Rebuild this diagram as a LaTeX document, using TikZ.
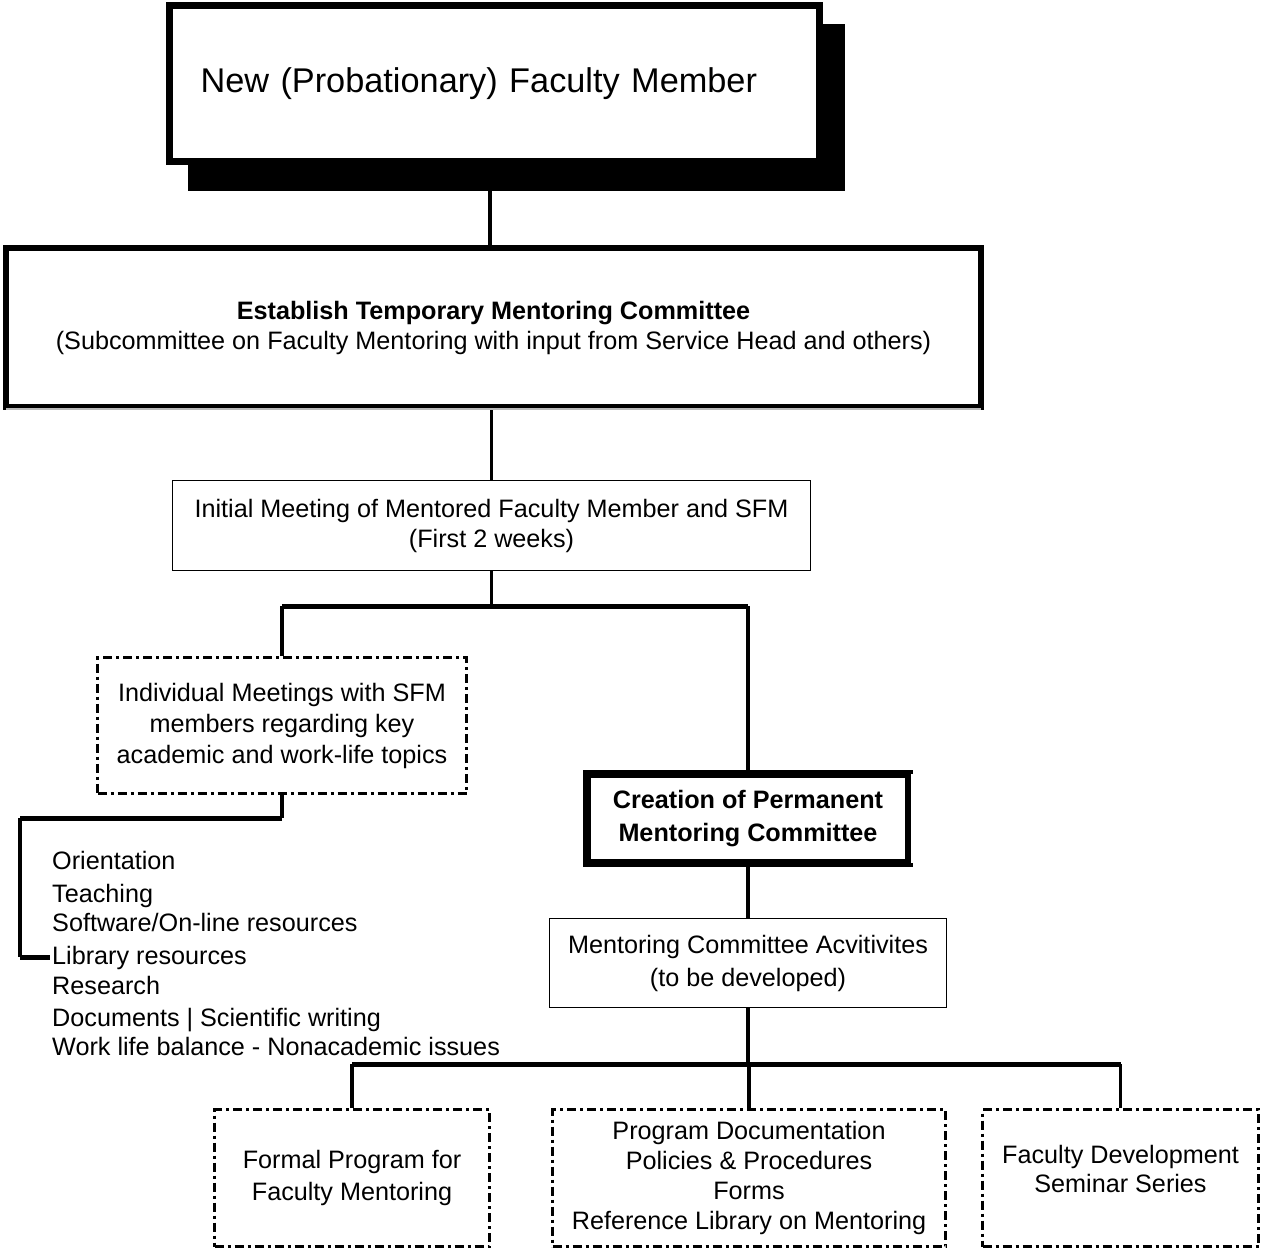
\documentclass[tikz,border=0pt]{standalone}
\usepackage{fontspec}
\setmainfont{Liberation Sans}
\begin{document}
\begin{tikzpicture}[x=1pt,y=-1pt,
  vconn/.style={line width=3.5pt},
  hconn/.style={line width=5pt, line cap=square},
  thinbox/.style={draw, fill=white, line width=1.5pt, inner sep=0pt, align=center},
  dashbox/.style={draw, fill=white, line width=3pt, dash pattern=on 9pt off 4pt on 3pt off 4pt, inner sep=0pt, align=center},
  fs/.style={font=\fontsize{25.2}{#1}\selectfont},
  item/.style={anchor=base west, inner sep=0pt, font=\fontsize{25.2}{30}\selectfont}
]
\useasboundingbox (0,0) rectangle (1263,1253);
% top box with shadow
\fill (188,24) rectangle (845,191);
\node[draw, fill=white, line width=7pt, text width=587pt, inner xsep=31.5pt, inner ysep=0pt,
      minimum height=156pt, align=left, font=\fontsize{34.3}{40}\selectfont]
      (top) at (494,83.5) {New (Probationary) Faculty Member};
% establish box
\node[draw, fill=white, line width=6pt, minimum width=975pt, minimum height=159pt, inner sep=0pt,
      align=center, fs=30] (est) at (493.5,327.5)
      {\textbf{Establish Temporary Mentoring Committee}\\(Subcommittee on Faculty Mentoring with input from Service Head and others)};
\draw[gray!55, line width=1.8pt] ([xshift=3pt,yshift=1.3pt]est.south west) -- ([xshift=-3pt,yshift=1.3pt]est.south east);
% initial meeting
\node[thinbox, minimum width=638pt, minimum height=90pt, fs=30] (init) at (491.5,525.5)
      {Initial Meeting of Mentored Faculty Member and SFM\\(First 2 weeks)};
% individual meetings
\node[dashbox, minimum width=369pt, minimum height=136pt, fs=31] (indiv) at (282,725.5)
      {Individual Meetings with SFM\\members regarding key\\academic and work-life topics};
% creation
\node[draw, fill=white, line width=8pt, minimum width=322pt, minimum height=89pt, inner sep=0pt,
      align=center, font={\fontsize{25.2}{33}\selectfont\bfseries}] (create) at (748,818.5)
      {Creation of Permanent\\Mentoring Committee};
\draw[white, line width=2.5pt] ([xshift=-1pt,yshift=-4pt]create.north east) -- ([xshift=-1pt,yshift=4pt]create.south east);
% mentoring activities
\node[thinbox, minimum width=397pt, minimum height=89pt, fs=33] (ment) at (748,963)
      {Mentoring Committee Acvitivites\\(to be developed)};
% bottom boxes
\node[dashbox, minimum width=275pt, minimum height=137pt, fs=32] (formal) at (352,1178)
      {Formal Program for\\Faculty Mentoring};
\node[dashbox, minimum width=393pt, minimum height=137pt, fs=30] (prog) at (749,1178)
      {Program Documentation\\Policies \& Procedures\\Forms\\Reference Library on Mentoring};
\node[dashbox, minimum width=276pt, minimum height=137pt, fs=29, text depth=18pt] (fdev) at (1120.5,1178)
      {Faculty Development\\Seminar Series};
% list items
\node[item] (i1) at (52,869) {Orientation};
\node[item] (i2) at (52,902) {Teaching};
\node[item] (i3) at (52,931) {Software/On-line resources};
\node[item] (lib) at (52,964) {Library resources};
\node[item] (i5) at (52,994) {Research};
\node[item] (i6) at (52,1026) {Documents | Scientific writing};
\node[item] (i7) at (52,1055) {Work life balance - Nonacademic issues};
% connectors
\coordinate (bus1) at (0,606);
\coordinate (bus2) at (0,1064);
\coordinate (elb) at (20,818);
\draw[vconn] ([xshift=-4pt]top.south) -- ([xshift=-4pt]top.south |- est.north);
\draw[vconn] (est.south -| init.north) -- (init.north);
\draw[vconn] (init.south) -- (init.south |- bus1);
\draw[hconn] (indiv.north |- bus1) -- (create.north |- bus1);
\draw[vconn] (indiv.north) -- (indiv.north |- bus1);
\draw[vconn] (create.north) -- (create.north |- bus1);
\draw[vconn] (indiv.south) -- (indiv.south |- elb);
\draw[hconn] (indiv.south |- elb) -- (elb);
\draw[vconn] (elb) -- (elb |- lib.west);
\draw[hconn] (elb |- lib.west) -- ([xshift=-2pt]lib.west);
\draw[vconn] (create.south) -- (ment.north);
\draw[vconn] (ment.south) -- (ment.south |- bus2);
\draw[hconn] (formal.north |- bus2) -- (fdev.north |- bus2);
\draw[vconn] (formal.north) -- (formal.north |- bus2);
\draw[vconn] (prog.north) -- (prog.north |- bus2);
\draw[vconn] (fdev.north) -- (fdev.north |- bus2);
\end{tikzpicture}
\end{document}
